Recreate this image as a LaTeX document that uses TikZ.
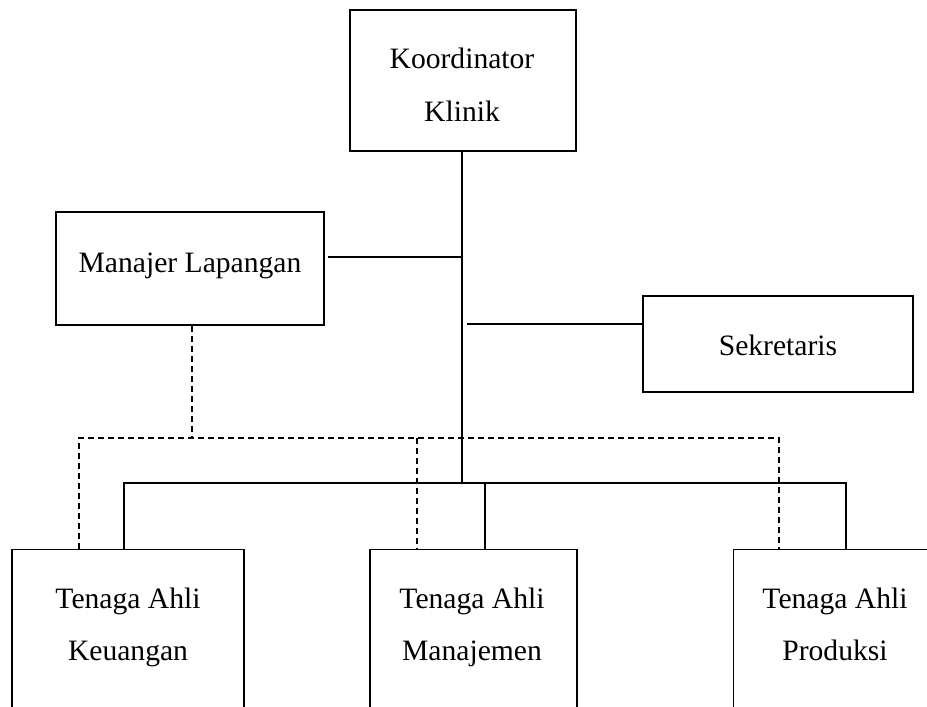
\documentclass[tikz,border=0pt]{standalone}
\usepackage{fontspec}
\setmainfont{Liberation Serif}
\begin{document}
\begin{tikzpicture}[x=1pt,y=1pt,
  box/.style={draw,line width=1.3pt,rectangle,inner sep=0pt},
  lbl/.style={inner sep=0pt,anchor=base,font=\fontsize{29.6}{34}\selectfont},
  conn/.style={line width=1.3pt},
  dconn/.style={line width=1.1pt,dash pattern=on 6pt off 4pt}]
\useasboundingbox (0,0) rectangle (927,707);
\clip (0,0) rectangle (927,707);
% boxes
\node[box,minimum width=226pt,minimum height=141pt] (kor) at (463,626.5) {};
\node[box,minimum width=268pt,minimum height=113pt] (man) at (190,438.5) {};
\node[box,minimum width=270pt,minimum height=96pt] (sek) at (778,363) {};
\node[box,minimum width=232pt,minimum height=200pt,anchor=north] (keu) at (128,158) {};
\node[box,minimum width=207pt,minimum height=200pt,anchor=north] (mnj) at (473.5,158) {};
\node[box,minimum width=210pt,minimum height=200pt,anchor=north west] (pro) at (733,158) {};
% texts
\node[lbl] (kor1) at (462,638) {Koordinator};
\node[lbl] (kor2) at (462,585) {Klinik};
\node[lbl] (man1) at (190,434) {Manajer Lapangan};
\node[lbl] (sek1) at (778,351) {Sekretaris};
\node[lbl] (keu1) at (128,98) {Tenaga Ahli};
\node[lbl] (keu2) at (128,46) {Keuangan};
\node[lbl] (mnj1) at (472,98) {Tenaga Ahli};
\node[lbl] (mnj2) at (472,46) {Manajemen};
\node[lbl] (pro1) at (835,98) {Tenaga Ahli};
\node[lbl] (pro2) at (835,46) {Produksi};
% coordinates
\coordinate (bus) at (462,224);
\coordinate (dbus) at (192,269);
\coordinate (mlj) at (462,450);
\coordinate (skj) at (467,383);
% solid connectors
\draw[conn] (kor.south -| bus) -- (bus);
\draw[conn] ([xshift=3pt]man.east |- mlj) -- (mlj);
\draw[conn] (skj) -- (sek.west |- skj);
\draw[conn] (124,158) |- (bus) -| (846,158);
\draw[conn] (485,224) -- (485,158);
% dashed connectors
\draw[dconn] (man.south -| dbus) -- (dbus);
\draw[dconn] (79,158) |- (dbus) -| (779,158);
\draw[dconn] (417,269) -- (417,158);
\end{tikzpicture}
\end{document}
